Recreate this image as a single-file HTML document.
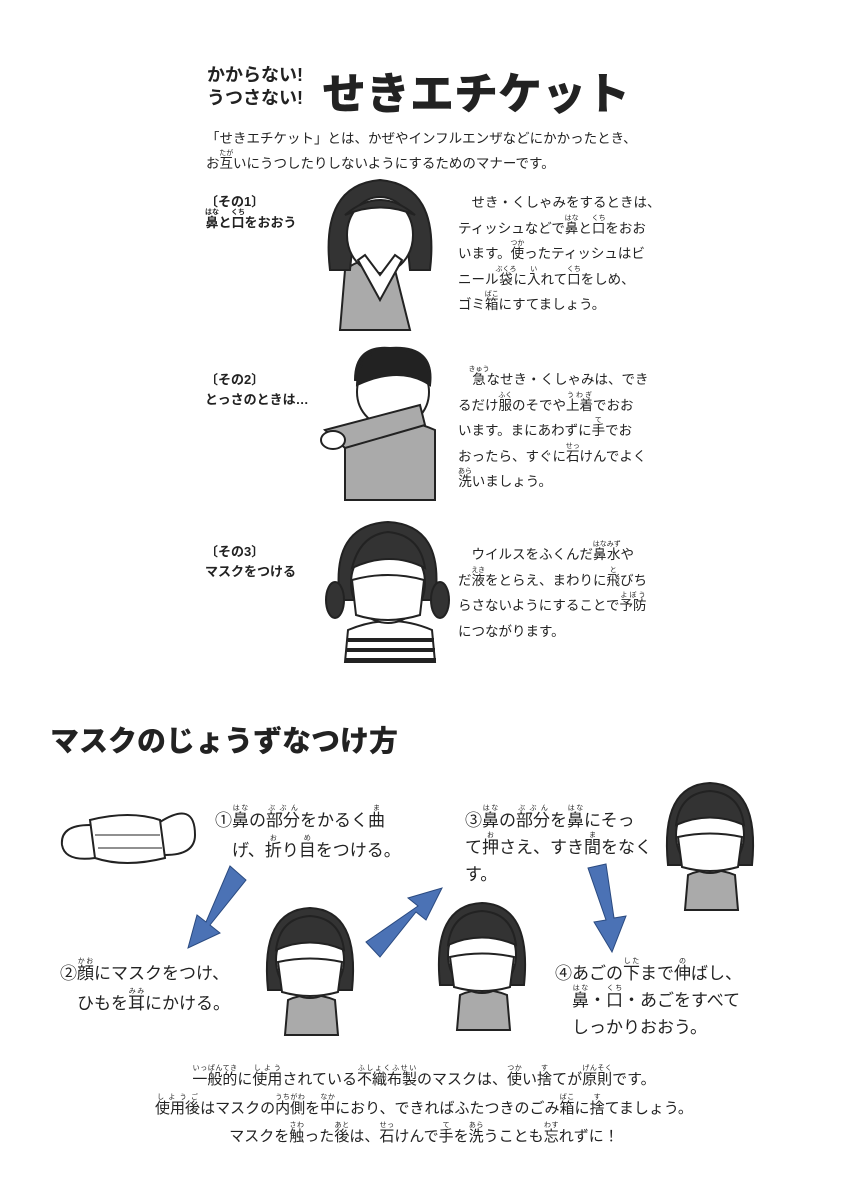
<!DOCTYPE html>
<html><head><meta charset="utf-8"><style>
body{margin:0;background:#fff;}
#p{position:relative;width:848px;height:1200px;overflow:hidden;font-family:"Liberation Sans","Noto Sans CJK JP",sans-serif;color:#222;}
.a{position:absolute;white-space:nowrap;}
rt{font-size:7px;}
.t{font-size:13.5px;}
.lb{font-size:13px;font-weight:bold;}
.s{font-size:17px;}
.b{font-size:15px;}
</style></head><body><div id="p">
<div class="a" style="left:207px;top:64px;font-size:18px;font-weight:bold;line-height:23px">かからない!<br>うつさない!</div>
<div class="a" style="left:322px;top:58px;font-size:44px;font-weight:900;letter-spacing:0px">せきエチケット</div>
<div class="a t" style="left:206px;top:127px;">「せきエチケット」とは、かぜやインフルエンザなどにかかったとき、</div>
<div class="a t" style="left:206px;top:150px;">お<ruby>互<rt>たが</rt></ruby>いにうつしたりしないようにするためのマナーです。</div>

<div class="a lb" style="left:205px;top:192px;line-height:20px">〔その1〕<br><ruby>鼻<rt>はな</rt></ruby>と<ruby>口<rt>くち</rt></ruby>をおおう</div>
<div class="a t" style="left:458px;top:190px;line-height:25.5px">　せき・くしゃみをするときは、<br>ティッシュなどで<ruby>鼻<rt>はな</rt></ruby>と<ruby>口<rt>くち</rt></ruby>をおお<br>います。<ruby>使<rt>つか</rt></ruby>ったティッシュはビ<br>ニール<ruby>袋<rt>ぶくろ</rt></ruby>に<ruby>入<rt>い</rt></ruby>れて<ruby>口<rt>くち</rt></ruby>をしめ、<br>ゴミ<ruby>箱<rt>ばこ</rt></ruby>にすてましょう。</div>

<div class="a lb" style="left:205px;top:370px;line-height:20px">〔その2〕<br>とっさのときは…</div>
<div class="a t" style="left:458px;top:366px;line-height:25.5px">　<ruby>急<rt>きゅう</rt></ruby>なせき・くしゃみは、でき<br>るだけ<ruby>服<rt>ふく</rt></ruby>のそでや<ruby>上着<rt>うわぎ</rt></ruby>でおお<br>います。まにあわずに<ruby>手<rt>て</rt></ruby>でお<br>おったら、すぐに<ruby>石<rt>せっ</rt></ruby>けんでよく<br><ruby>洗<rt>あら</rt></ruby>いましょう。</div>

<div class="a lb" style="left:205px;top:542px;line-height:20px">〔その3〕<br>マスクをつける</div>
<div class="a t" style="left:458px;top:541px;line-height:25.5px">　ウイルスをふくんだ<ruby>鼻水<rt>はなみず</rt></ruby>や<br>だ<ruby>液<rt>えき</rt></ruby>をとらえ、まわりに<ruby>飛<rt>と</rt></ruby>びち<br>らさないようにすることで<ruby>予防<rt>よぼう</rt></ruby><br>につながります。</div>

<svg class="a" style="left:0;top:0" width="848" height="1200">
<g stroke="#222" stroke-width="2">
<path d="M340 330 L345 270 Q370 250 395 270 L410 330Z" fill="#aaa"/>
<path d="M330 270 Q320 185 380 180 Q440 185 430 270 L410 270 L405 220 L355 220 L350 270Z" fill="#333"/>
<ellipse cx="380" cy="235" rx="33" ry="38" fill="#fff"/>
<path d="M345 215 Q380 185 415 215 Q380 200 345 215Z" fill="#333"/>
<path d="M358 260 L380 300 L402 260 L395 255 L380 275 L365 255Z" fill="#fff"/>
<path d="M345 500 L345 430 Q390 410 435 430 L435 500Z" fill="#aaa"/>
<path d="M355 380 Q355 345 390 348 Q435 345 430 385Z" fill="#222"/>
<ellipse cx="393" cy="392" rx="36" ry="36" fill="#fff"/>
<path d="M357 385 Q358 350 392 348 Q430 350 430 385 Q400 365 357 385Z" fill="#222"/>
<path d="M325 430 L420 405 L425 425 L345 448 Z" fill="#aaa"/>
<ellipse cx="333" cy="440" rx="12" ry="9" fill="#fff"/>
<path d="M345 662 L348 630 Q390 612 432 630 L435 662Z" fill="#fff"/>
<g stroke-width="4"><path d="M348 640H434M347 650H435M346 660H436"/></g>
<path d="M340 600 Q330 525 388 522 Q445 525 435 600Z" fill="#333"/>
<ellipse cx="388" cy="583" rx="37" ry="40" fill="#fff"/>
<path d="M352 568 Q360 535 388 532 Q420 535 425 568 Q390 550 352 568Z" fill="#333"/>
<path d="M352 580 Q388 570 424 580 L420 615 Q388 625 356 615Z" fill="#fff"/>
<ellipse cx="335" cy="600" rx="9" ry="18" fill="#333"/>
<ellipse cx="440" cy="600" rx="9" ry="18" fill="#333"/>
<path d="M90 820 Q130 810 160 820 L165 858 Q125 868 95 858Z" fill="#fff"/>
<path d="M90 825 Q60 825 62 845 Q65 862 95 858 M160 822 Q195 800 195 835 Q195 855 165 855" fill="none"/>
<path d="M95 835H160M98 848H162" stroke-width="1"/>
<g id="f">
<path d="M285 1035 L288 1000 Q310 990 335 1000 L338 1035Z" fill="#aaa"/>
<path d="M268 990 Q260 910 310 908 Q360 910 352 990Z" fill="#333"/>
<ellipse cx="310" cy="960" rx="34" ry="38" fill="#fff"/>
<path d="M276 950 Q280 918 310 916 Q340 918 344 950 Q310 935 276 950Z" fill="#333"/>
<path d="M278 962 Q310 955 342 962 L338 992 Q310 1000 282 992Z" fill="#fff"/>
</g>
<use href="#f" x="172" y="-5"/>
<use href="#f" x="400" y="-125"/>
</g>
<g fill="#4b72b5" stroke="#2a4a80" stroke-width="1">
<path d="M230 866 L246 880 L210 925 L220 933 L188 948 L197 915 L206 922Z"/>
<path d="M366 942 L380 957 L416 912 L426 920 L442 888 L408 898 L418 906Z"/>
<path d="M588 868 L606 864 L614 918 L626 916 L612 952 L594 922 L606 920Z"/>
</g>
</svg>

<div class="a" style="left:50px;top:718px;font-size:29px;font-weight:900">マスクのじょうずなつけ方</div>
<div class="a s" style="left:215px;top:805px;line-height:30px">①<ruby>鼻<rt>はな</rt></ruby>の<ruby>部分<rt>ぶぶん</rt></ruby>をかるく<ruby>曲<rt>ま</rt></ruby><br>　げ、<ruby>折<rt>お</rt></ruby>り<ruby>目<rt>め</rt></ruby>をつける。</div>
<div class="a s" style="left:465px;top:805px;line-height:27px">③<ruby>鼻<rt>はな</rt></ruby>の<ruby>部分<rt>ぶぶん</rt></ruby>を<ruby>鼻<rt>はな</rt></ruby>にそっ<br>て<ruby>押<rt>お</rt></ruby>さえ、すき<ruby>間<rt>ま</rt></ruby>をなく<br>す。</div>
<div class="a s" style="left:60px;top:958px;line-height:30px">②<ruby>顔<rt>かお</rt></ruby>にマスクをつけ、<br>　ひもを<ruby>耳<rt>みみ</rt></ruby>にかける。</div>
<div class="a s" style="left:555px;top:958px;line-height:27px">④あごの<ruby>下<rt>した</rt></ruby>まで<ruby>伸<rt>の</rt></ruby>ばし、<br>　<ruby>鼻<rt>はな</rt></ruby>・<ruby>口<rt>くち</rt></ruby>・あごをすべて<br>　しっかりおおう。</div>
<div class="a b" style="left:0;width:848px;text-align:center;top:1065px;line-height:28.5px"><ruby>一般的<rt>いっぱんてき</rt></ruby>に<ruby>使用<rt>しよう</rt></ruby>されている<ruby>不織布製<rt>ふしょくふせい</rt></ruby>のマスクは、<ruby>使<rt>つか</rt></ruby>い<ruby>捨<rt>す</rt></ruby>てが<ruby>原則<rt>げんそく</rt></ruby>です。<br><ruby>使用後<rt>しようご</rt></ruby>はマスクの<ruby>内側<rt>うちがわ</rt></ruby>を<ruby>中<rt>なか</rt></ruby>におり、できればふたつきのごみ<ruby>箱<rt>ばこ</rt></ruby>に<ruby>捨<rt>す</rt></ruby>てましょう。<br>マスクを<ruby>触<rt>さわ</rt></ruby>った<ruby>後<rt>あと</rt></ruby>は、<ruby>石<rt>せっ</rt></ruby>けんで<ruby>手<rt>て</rt></ruby>を<ruby>洗<rt>あら</rt></ruby>うことも<ruby>忘<rt>わす</rt></ruby>れずに！</div>
</div></body></html>
